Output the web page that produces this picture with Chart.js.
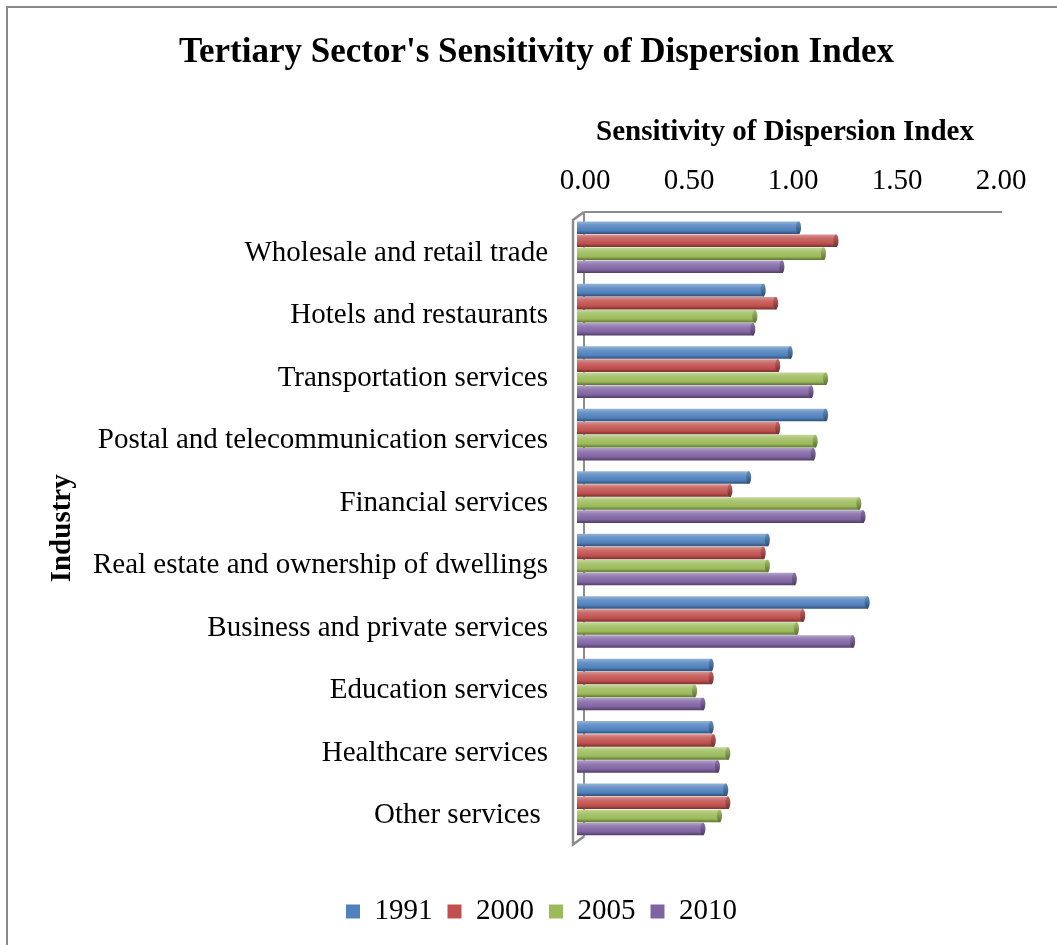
<!DOCTYPE html>
<html>
<head>
<meta charset="utf-8">
<script src="https://cdn.jsdelivr.net/npm/chart.js@4/dist/chart.umd.min.js"></script>
<style>
  html, body { margin: 0; padding: 0; background: #ffffff; }
  #wrap { position: relative; width: 1057px; height: 945px; overflow: hidden; }
  #frame { position: absolute; left: 6px; top: 6px; width: 1100px; height: 1000px;
           border: 2px solid #8a8a8a; box-sizing: border-box; }
  #chart { position: absolute; left: 0; top: 0; }
</style>
</head>
<body>
<div id="wrap">
  <div id="frame"></div>
  <canvas id="chart" width="1057" height="945"></canvas>
</div>
<script>
// Industries of the tertiary sector (top to bottom)
const industries = [
  'Wholesale and retail trade',
  'Hotels and restaurants',
  'Transportation services',
  'Postal and telecommunication services',
  'Financial services',
  'Real estate and ownership of dwellings',
  'Business and private services',
  'Education services',
  'Healthcare services',
  'Other services '
];

// Sensitivity of dispersion index by year
const years = ['1991', '2000', '2005', '2010'];
const idx1991 = [1.07, 0.90, 1.03, 1.20, 0.83, 0.92, 1.40, 0.65, 0.65, 0.72];
const idx2000 = [1.25, 0.96, 0.97, 0.97, 0.74, 0.90, 1.09, 0.65, 0.66, 0.73];
const idx2005 = [1.19, 0.86, 1.20, 1.15, 1.36, 0.92, 1.06, 0.57, 0.73, 0.69];
const idx2010 = [0.99, 0.85, 1.13, 1.14, 1.38, 1.05, 1.33, 0.61, 0.68, 0.61];

// Axis range and tick spacing
const axisMin = 0;
const axisMax = 2;
const axisStep = 0.5;

const seriesColors = ['#4F81BD', '#C0504D', '#9BBB59', '#8064A2'];
const FONT = '"Liberation Serif", "Times New Roman", serif';

function mix(hex, target, t) {
  const n = parseInt(hex.slice(1), 16);
  const r = (n >> 16) & 255, g = (n >> 8) & 255, b = n & 255;
  const m = c => Math.round(c + (target - c) * t);
  return `rgb(${m(r)},${m(g)},${m(b)})`;
}

// Cylinder-like shading for every bar plus its rounded end cap
const cylinderBars = {
  id: 'cylinderBars',
  beforeDatasetsDraw(chart) {
    const { ctx } = chart;
    chart.data.datasets.forEach((ds, di) => {
      const meta = chart.getDatasetMeta(di);
      const base = seriesColors[di];
      meta.data.forEach(el => {
        const h = el.height;
        const top = el.y - h / 2;
        const g = ctx.createLinearGradient(0, top, 0, top + h);
        g.addColorStop(0, mix(base, 255, 0.4));
        g.addColorStop(0.3, mix(base, 255, 0.15));
        g.addColorStop(0.72, base);
        g.addColorStop(1, mix(base, 0, 0.38));
        el.options = Object.assign({}, el.options, { backgroundColor: g });
      });
    });
  },
  afterDatasetsDraw(chart) {
    const { ctx } = chart;
    chart.data.datasets.forEach((ds, di) => {
      const meta = chart.getDatasetMeta(di);
      const base = seriesColors[di];
      meta.data.forEach(el => {
        const h = el.height;
        ctx.save();
        ctx.beginPath();
        ctx.ellipse(el.x - 1, el.y, 2.5, h / 2, 0, 0, Math.PI * 2);
        const g = ctx.createLinearGradient(0, el.y - h / 2, 0, el.y + h / 2);
        g.addColorStop(0, mix(base, 255, 0.1));
        g.addColorStop(1, mix(base, 0, 0.4));
        ctx.fillStyle = g;
        ctx.fill();
        ctx.restore();
      });
    });
  }
};

// Walls of the 3-D plot area: left wall slab and back-wall top edge
const plotWalls = {
  id: 'plotWalls',
  beforeDatasetsDraw(chart) {
    const { ctx, chartArea } = chart;
    const xs = chart.scales.x;
    const x0 = xs.getPixelForValue(axisMin);
    const x1 = xs.getPixelForValue(axisMax);
    const top = chartArea.top, bottom = chartArea.bottom;
    ctx.save();
    ctx.strokeStyle = '#8c8c8c';
    ctx.lineWidth = 2;
    // back wall top edge
    ctx.beginPath();
    ctx.moveTo(x0 + 7, top - 4);
    ctx.lineTo(x1 + 9, top - 4);
    ctx.stroke();
    // back edge of the left wall
    ctx.beginPath();
    ctx.moveTo(x0 + 7, top - 4);
    ctx.lineTo(x0 + 7, bottom - 4);
    ctx.stroke();
    // front edge of the left wall with its diagonals
    ctx.lineWidth = 2.5;
    ctx.beginPath();
    ctx.moveTo(x0 + 7, top - 4);
    ctx.lineTo(x0 - 4, top + 4);
    ctx.lineTo(x0 - 4, bottom + 4);
    ctx.lineTo(x0 + 7, bottom - 4);
    ctx.stroke();
    ctx.restore();
  }
};

// Centre the chart title and the legend row over the whole frame
const blockShift = {
  id: 'blockShift',
  afterLayout(chart) {
    const lg = chart.legend;
    if (lg) { lg.left += 45; lg.right += 45; }
    const tb = chart.titleBlock;
    if (tb) { tb.left += 40; tb.right += 40; }
  }
};

const datasets = [idx1991, idx2000, idx2005, idx2010].map((vals, i) => ({
  label: years[i],
  data: vals,
  backgroundColor: seriesColors[i],
  borderWidth: 0,
  categoryPercentage: 0.835,
  barPercentage: 0.96
}));

new Chart(document.getElementById('chart'), {
  type: 'bar',
  data: { labels: industries, datasets },
  plugins: [plotWalls, cylinderBars, blockShift],
  options: {
    responsive: false,
    animation: false,
    indexAxis: 'y',
    layout: { padding: { left: 0, right: 64, top: 0, bottom: 9 } },
    scales: {
      x: {
        position: 'top',
        min: axisMin,
        max: axisMax,
        grid: { display: false, drawTicks: false, tickLength: 0 },
        border: { display: false },
        ticks: {
          stepSize: axisStep,
          padding: 17,
          labelOffset: 8,
          color: '#000000',
          font: { family: FONT, size: 29 },
          callback: v => Number(v).toFixed(2)
        },
        title: {
          display: true,
          text: 'Sensitivity of Dispersion Index',
          color: '#000000',
          font: { family: FONT, size: 29, weight: 'bold' },
          padding: { top: 41, bottom: 0 }
        },
        afterFit(scale) { scale.height = 142; }
      },
      y: {
        grid: { display: false, drawTicks: false, tickLength: 0 },
        border: { display: false },
        ticks: {
          padding: 29,
          labelOffset: 6,
          color: '#000000',
          font: { family: FONT, size: 29 }
        },
        title: {
          display: true,
          text: 'Industry',
          color: '#000000',
          font: { family: FONT, size: 29, weight: 'bold' },
          padding: { top: 45, bottom: 0 }
        },
        afterFit(scale) { scale.width = 577; }
      }
    },
    plugins: {
      title: {
        display: true,
        text: "Tertiary Sector's Sensitivity of Dispersion Index",
        color: '#000000',
        font: { family: FONT, size: 35, weight: 'bold' },
        padding: { top: 32, bottom: 0 }
      },
      legend: {
        position: 'bottom',
        title: { display: true, text: '', font: { size: 2 }, padding: { top: 39, bottom: 0 } },
        labels: {
          boxWidth: 14,
          boxHeight: 14,
          padding: 15,
          color: '#000000',
          font: { family: FONT, size: 29 },
          generateLabels(chart) {
            return chart.data.datasets.map((ds, i) => ({
              text: ds.label,
              fillStyle: seriesColors[i],
              strokeStyle: seriesColors[i],
              fontColor: '#000000',
              lineWidth: 0,
              hidden: false,
              datasetIndex: i
            }));
          }
        }
      },
      tooltip: { enabled: false }
    }
  }
});
</script>
</body>
</html>
